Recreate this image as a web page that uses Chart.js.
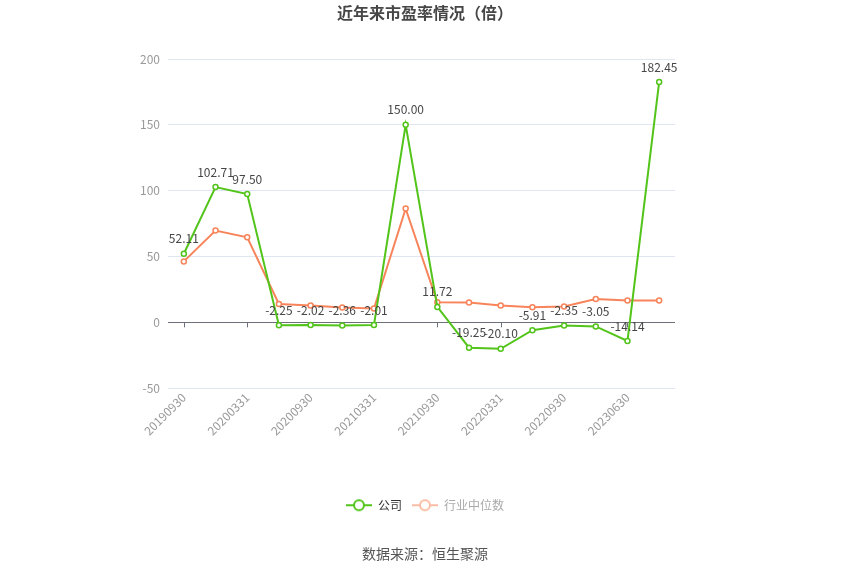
<!DOCTYPE html>
<html>
<head>
<meta charset="utf-8">
<script src="https://cdn.jsdelivr.net/npm/chart.js@4.4.1/dist/chart.umd.min.js"></script>
<style>
  html, body { margin: 0; padding: 0; background: #fff; }
  #wrap { width: 850px; height: 575px; }
</style>
</head>
<body>
<div id="wrap"><canvas id="graph"></canvas></div>
<script>
var periods = ['20190930', '20191231', '20200331', '20200630', '20200930', '20201231',
    '20210331', '20210630', '20210930', '20211231', '20220331', '20220630',
    '20220930', '20221231', '20230630', '20230930'];
var companyPE = [52.11, 102.71, 97.50, -2.25, -2.02, -2.36, -2.01, 150.00,
    11.72, -19.25, -20.10, -5.91, -2.35, -3.05, -14.14, 182.45];
var industryPE = [46.3, 69.7, 64.6, 14.0, 12.8, 11.2, 10.5, 86.4,
    15.3, 15.0, 12.8, 11.5, 12.0, 17.8, 16.6, 16.6];

var GREEN = '#52c41a';
var ORANGE = '#f7845a';
var FONT = "'Noto Sans CJK SC', 'Noto Sans', sans-serif";

// legend icon: short line with a hollow circle
function legendIcon(color) {
    var c = document.createElement('canvas');
    c.width = 26;
    c.height = 14;
    var g = c.getContext('2d');
    g.strokeStyle = color;
    g.lineWidth = 2;
    g.beginPath();
    g.moveTo(0, 7);
    g.lineTo(26, 7);
    g.stroke();
    g.beginPath();
    g.arc(13, 7, 5, 0, Math.PI * 2);
    g.fillStyle = '#fff';
    g.fill();
    g.stroke();
    return c;
}

// values above company points
var valueLabels = {
    id: 'valueLabels',
    afterDatasetsDraw: function (chart) {
        var ctx = chart.ctx;
        var meta = chart.getDatasetMeta(0);
        ctx.save();
        ctx.font = '12px ' + FONT;
        ctx.fillStyle = '#464646';
        ctx.textAlign = 'center';
        ctx.textBaseline = 'bottom';
        meta.data.forEach(function (pt, i) {
            ctx.fillText(companyPE[i].toFixed(2), pt.x, pt.y - 9);
        });
        ctx.restore();
    }
};

// small tick marks hanging from the zero line
var zeroTicks = {
    id: 'zeroTicks',
    beforeDatasetsDraw: function (chart) {
        var ctx = chart.ctx;
        var xs = chart.scales.x, ys = chart.scales.y;
        var y0 = ys.getPixelForValue(0);
        ctx.save();
        ctx.strokeStyle = '#6e7079';
        ctx.lineWidth = 1;
        for (var i = 0; i < periods.length; i += 2) {
            var x = Math.round(xs.getPixelForValue(i)) + 0.5;
            ctx.beginPath();
            ctx.moveTo(x, y0);
            ctx.lineTo(x, y0 + 5);
            ctx.stroke();
        }
        ctx.restore();
    }
};

var c = document.getElementById('graph');
var chart = new Chart(c, {
    type: 'line',
    data: {
        labels: periods,
        datasets: [
            {
                label: '公司',
                data: companyPE,
                borderColor: GREEN,
                backgroundColor: '#fff',
                borderWidth: 2,
                pointRadius: 2.5,
                pointBorderWidth: 1.5,
                pointBackgroundColor: '#fff',
                pointBorderColor: GREEN,
                tension: 0
            },
            {
                label: '行业中位数',
                data: industryPE,
                borderColor: ORANGE,
                backgroundColor: '#fff',
                borderWidth: 2,
                pointRadius: 2.5,
                pointBorderWidth: 1.5,
                pointBackgroundColor: '#fff',
                pointBorderColor: ORANGE,
                tension: 0
            }
        ]
    },
    options: {
        responsive: true,
        maintainAspectRatio: false,
        animation: false,
        layout: { padding: 0 },
        scales: {
            x: {
                offset: true,
                grid: { display: false, drawTicks: false },
                border: { display: false },
                ticks: {
                    autoSkip: false,
                    maxRotation: 45,
                    minRotation: 45,
                    color: '#999',
                    font: { size: 12, family: FONT },
                    padding: 2,
                    callback: function (v, i) { return i % 2 === 0 ? periods[i] : ''; }
                },
                afterFit: function (s) { s.height = 101; }
            },
            y: {
                min: -50,
                max: 200,
                ticks: {
                    stepSize: 50,
                    color: '#999',
                    font: { size: 12, family: FONT },
                    padding: 8
                },
                grid: {
                    drawTicks: false,
                    color: function (ctx) {
                        return ctx.tick && ctx.tick.value === 0 ? '#6e7079' : '#e0e6f1';
                    }
                },
                border: { display: false },
                afterFit: function (s) { s.width = 168; }
            },
            pad: {
                position: 'right',
                display: true,
                ticks: { display: false },
                grid: { display: false },
                border: { display: false },
                afterFit: function (s) { s.width = 175; }
            }
        },
        plugins: {
            title: {
                display: true,
                text: '近年来市盈率情况（倍）',
                color: '#464646',
                font: { size: 16, weight: 'bold', family: FONT },
                padding: { top: 3, bottom: 36.8 }
            },
            legend: {
                position: 'bottom',
                labels: {
                    usePointStyle: true,
                    pointStyleWidth: 26,
                    boxHeight: 14,
                    padding: 10,
                    font: { size: 12, family: FONT },
                    generateLabels: function (ch) {
                        return [
                            { text: '公司', pointStyle: legendIcon(GREEN), fontColor: '#333',
                              strokeStyle: GREEN, fillStyle: '#fff', lineWidth: 0, datasetIndex: 0 },
                            { text: '行业中位数', pointStyle: legendIcon('#fbbca5'), fontColor: '#aaa',
                              strokeStyle: '#fbbca5', fillStyle: '#fff', lineWidth: 0, datasetIndex: 1 }
                        ];
                    }
                }
            },
            subtitle: {
                display: true,
                position: 'bottom',
                text: '数据来源：恒生聚源',
                color: '#555',
                font: { size: 14, family: FONT },
                padding: { top: 24, bottom: 13 }
            },
            tooltip: { enabled: false }
        }
    },
    plugins: [zeroTicks, valueLabels]
});
</script>
</body>
</html>
